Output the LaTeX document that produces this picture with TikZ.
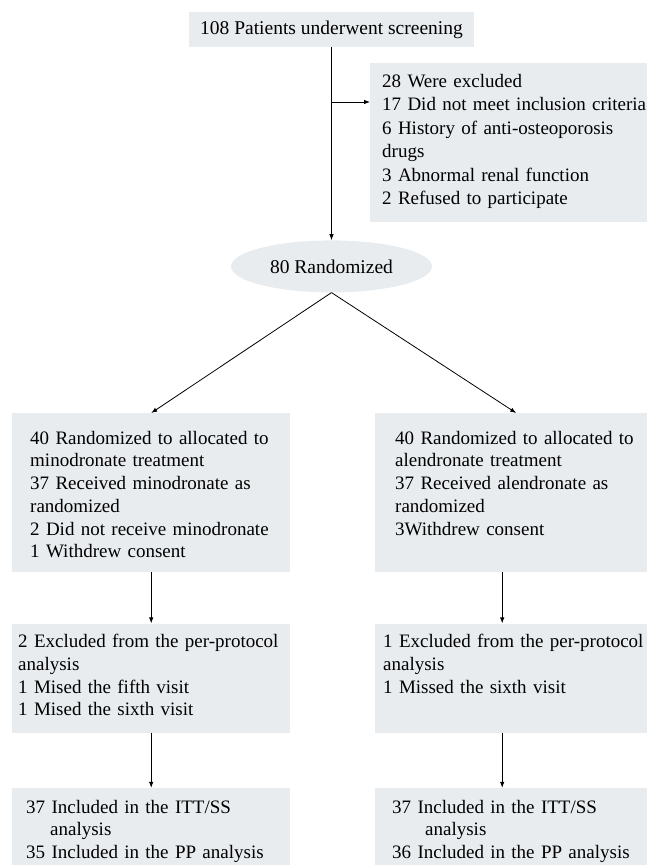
\documentclass[tikz,border=0pt]{standalone}
\usepackage{fontspec}
\setmainfont{Liberation Serif}
\usetikzlibrary{shapes.geometric, arrows.meta, positioning}
\definecolor{boxgray}{RGB}{232,236,239}
\tikzstyle{flowbox} = [rectangle, fill=boxgray, align=left, inner xsep=0pt, inner ysep=0pt, font=\fontsize{19pt}{22.7pt}\selectfont]
\tikzstyle{leftbox} = [flowbox, text width=278pt]
\tikzstyle{rightbox} = [flowbox, text width=282pt]
\tikzstyle{arrow} = [-{Latex[length=6pt,width=4.5pt]}, line width=0.8pt]
\tikzset{textindent/.style={execute at begin node={\leftskip=#1\relax\rightskip=-40pt plus 1fil\relax}}}

\begin{document}
\begin{tikzpicture}[x=1pt, y=1pt]
\useasboundingbox (0,0) rectangle (647,-865);

% screening and exclusions
\node[flowbox, align=center, minimum width=285pt, minimum height=35pt, font=\fontsize{19.5pt}{22.7pt}\selectfont] (screen) at (331.5,-29.5) {108 Patients underwent screening};
\node[flowbox, anchor=north west, text width=290pt, textindent=12pt, text height=24pt, text depth=135pt, font=\fontsize{19pt}{23.5pt}\selectfont] (excl) at (370,-63) {28 Were excluded\\17 Did not meet inclusion criteria\\6 History of anti-osteoporosis\\drugs\\3 Abnormal renal function\\2 Refused to participate};
\node[ellipse, fill=boxgray, minimum width=201pt, minimum height=52pt, inner sep=0pt, font=\fontsize{19.5pt}{22.7pt}\selectfont, below=193pt of screen] (rand) {80 Randomized};

% left arm
\node[leftbox, anchor=north west, textindent=18pt, text height=31pt, text depth=128pt] (alloc1) at (12,-413) {40 Randomized to allocated to\\minodronate treatment\\37 Received minodronate as\\randomized\\2 Did not receive minodronate\\1 Withdrew consent};
\node[leftbox, textindent=6pt, text height=24pt, text depth=85pt, below=51pt of alloc1] (ppx1) {2 Excluded from the per-protocol\\analysis\\1 Mised the fifth visit\\1 Mised the sixth visit};
\node[leftbox, textindent=14pt, text height=25pt, text depth=75pt, below=55pt of ppx1] (itt1) {37 Included in the ITT/SS\\\hspace*{24pt}analysis\\35 Included in the PP analysis};

% right arm
\node[rightbox, anchor=north west, textindent=20pt, text height=31pt, text depth=128pt] (alloc2) at (375,-413) {40 Randomized to allocated to\\alendronate treatment\\37 Received alendronate as\\randomized\\3Withdrew consent};
\node[rightbox, textindent=8pt, text height=24pt, text depth=85pt, below=51pt of alloc2] (ppx2) {1 Excluded from the per-protocol\\analysis\\1 Missed the sixth visit};
\node[rightbox, textindent=17pt, text height=25pt, text depth=75pt, below=55pt of ppx2] (itt2) {37 Included in the ITT/SS\\\hspace*{33pt}analysis\\36 Included in the PP analysis};

\coordinate (split) at (332,-102);

\draw[arrow] (screen) -- (rand);
\draw[arrow] (split) -- (split -| excl.west);
\draw[arrow] (rand.south) -- (alloc1.north);
\draw[arrow] (rand.south) -- (alloc2.north);
\draw[arrow] (alloc1) -- (ppx1);
\draw[arrow] (ppx1) -- (itt1);
\draw[arrow] ([xshift=-14pt]alloc2.south) -- ([xshift=-14pt]ppx2.north);
\draw[arrow] ([xshift=-14pt]ppx2.south) -- ([xshift=-14pt]itt2.north);

\end{tikzpicture}
\end{document}
